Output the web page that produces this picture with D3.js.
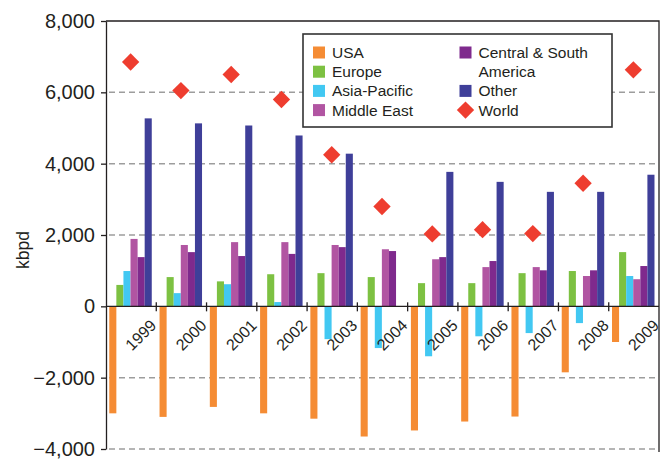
<!DOCTYPE html>
<html>
<head>
<meta charset="utf-8">
<script src="https://cdn.jsdelivr.net/npm/d3@7"></script>
<style>
  body { margin: 0; background: #fff; }
  svg { display: block; font-family: "Liberation Sans", Arial, Helvetica, sans-serif; }
</style>
</head>
<body>
<svg id="chart" width="663" height="459"></svg>
<script>
// Net change in oil flows by region, kbpd
const years = ["1999", "2000", "2001", "2002", "2003", "2004", "2005", "2006", "2007", "2008", "2009"];
const seriesNames = ["USA", "Europe", "Asia-Pacific", "Middle East", "Central & South America", "Other"];
const usa = [-3000, -3100, -2820, -3000, -3150, -3650, -3480, -3230, -3090, -1850, -1000];
const europe = [600, 820, 700, 900, 930, 820, 650, 650, 930, 990, 1520];
const asiaPacific = [990, 370, 620, 120, -920, -1170, -1400, -840, -750, -470, 850];
const middleEast = [1890, 1720, 1800, 1800, 1720, 1600, 1320, 1100, 1100, 850, 760];
const centralSouthAmerica = [1380, 1520, 1410, 1470, 1660, 1550, 1380, 1270, 1010, 1010, 1130];
const other = [5270, 5130, 5070, 4790, 4280, 0, 3770, 3490, 3210, 3210, 3690];
const world = [6850, 6050, 6500, 5800, 4250, 2800, 2030, 2150, 2040, 3450, 6630];
const yTicks = [-4000, -2000, 0, 2000, 4000, 6000, 8000];

const seriesValues = [usa, europe, asiaPacific, middleEast, centralSouthAmerica, other];
const seriesColors = ["#F58C34", "#7DC142", "#42C8F2", "#B155A2", "#7F2A8D", "#3F3F99"];
const worldColor = "#EE3D2F";
const ink = "#231F20";

const svg = d3.select("#chart");
const plotLeft = 106, plotRight = 659, plotTop = 21, plotBottom = 449;

const x = d3.scaleBand().domain(years).range([plotLeft, plotRight]).paddingInner(0).paddingOuter(0);
const inner = d3.scaleBand().domain(seriesNames).range([0, x.bandwidth()])
  .paddingInner(0).paddingOuter(0.55).align(0.42);
const y = d3.scaleLinear().domain([-4000, 8000]).range([plotBottom, plotTop]);

// dashed gridlines
svg.append("g").selectAll("line")
  .data(yTicks.filter(d => d !== 0 && d !== 8000))
  .join("line")
  .attr("x1", plotLeft + 3).attr("x2", plotRight)
  .attr("y1", d => y(d)).attr("y2", d => y(d))
  .attr("stroke", "#9d9d9d").attr("stroke-width", 1.5)
  .attr("stroke-dasharray", "6,4");

// bars
const rows = [];
years.forEach((yr, i) => {
  seriesNames.forEach((s, j) => {
    const v = seriesValues[j][i];
    if (v) rows.push({ yr, s, v, c: seriesColors[j] });
  });
});
svg.append("g").selectAll("rect")
  .data(rows)
  .join("rect")
  .attr("x", d => x(d.yr) + inner(d.s))
  .attr("width", inner.bandwidth())
  .attr("y", d => Math.min(y(d.v), y(0)))
  .attr("height", d => Math.abs(y(d.v) - y(0)))
  .attr("fill", d => d.c);

// frame: top and right edges
svg.append("path")
  .attr("d", `M${plotLeft},${plotTop}H${plotRight}V${plotBottom + 3}`)
  .attr("fill", "none").attr("stroke", ink).attr("stroke-width", 1.3);

// zero line with category ticks
svg.append("line")
  .attr("x1", plotLeft).attr("x2", plotRight)
  .attr("y1", y(0)).attr("y2", y(0))
  .attr("stroke", ink).attr("stroke-width", 1.3);
svg.append("g").selectAll("line")
  .data(years.slice(0, -1))
  .join("line")
  .attr("x1", d => x(d) + x.bandwidth()).attr("x2", d => x(d) + x.bandwidth())
  .attr("y1", y(0) - 4).attr("y2", y(0) + 5)
  .attr("stroke", ink).attr("stroke-width", 1.3);

// year labels
svg.append("g").selectAll("text")
  .data(years)
  .join("text")
  .attr("transform", d => `translate(${x(d) + x.bandwidth() + 1},${y(0) + 20}) rotate(-45)`)
  .attr("text-anchor", "end")
  .attr("font-size", 16)
  .attr("fill", ink)
  .text(d => d);

// y axis
const yAxis = svg.append("g")
  .attr("transform", `translate(${plotLeft},0)`)
  .call(d3.axisLeft(y).tickValues(yTicks).tickFormat(d3.format(",")).tickSize(5).tickSizeOuter(0).tickPadding(6));
yAxis.select(".domain").attr("stroke", ink).attr("stroke-width", 1.3);
yAxis.selectAll(".tick line").attr("stroke", ink).attr("stroke-width", 1.3);
yAxis.selectAll(".tick text").attr("font-size", 20).attr("fill", ink)
  .attr("font-family", "\"Liberation Sans\", Arial, sans-serif");

svg.append("text")
  .attr("transform", `translate(29,250) rotate(-90)`)
  .attr("text-anchor", "middle")
  .attr("font-size", 17.5)
  .attr("fill", ink)
  .text("kbpd");

// world markers
const diamond = d3.symbol().type(d3.symbolSquare).size(150);
svg.append("g").selectAll("path")
  .data(years.map((yr, i) => ({ yr, v: world[i] })))
  .join("path")
  .attr("d", diamond)
  .attr("transform", d => `translate(${x(d.yr) + x.bandwidth() / 2 - 0.5},${y(d.v)}) rotate(45)`)
  .attr("fill", worldColor);

// legend
const lg = svg.append("g");
lg.append("rect")
  .attr("x", 303).attr("y", 34).attr("width", 309).attr("height", 93)
  .attr("fill", "#fff").attr("stroke", "#333").attr("stroke-width", 1.6);
const legendItems = [
  { label: ["USA"], color: seriesColors[0], col: 0, row: 0 },
  { label: ["Europe"], color: seriesColors[1], col: 0, row: 1 },
  { label: ["Asia-Pacific"], color: seriesColors[2], col: 0, row: 2 },
  { label: ["Middle East"], color: seriesColors[3], col: 0, row: 3 },
  { label: ["Central & South", "America"], color: seriesColors[4], col: 1, row: 0 },
  { label: ["Other"], color: seriesColors[5], col: 1, row: 2 },
  { label: ["World"], color: worldColor, col: 1, row: 3, marker: true }
];
const colX = [313, 459.5];
const rowY = r => 52.5 + r * 19.2;
legendItems.forEach(it => {
  const gx = colX[it.col], gy = rowY(it.row);
  if (it.marker) {
    lg.append("path").attr("d", diamond)
      .attr("transform", `translate(${gx + 6},${gy}) rotate(45)`)
      .attr("fill", it.color);
  } else {
    lg.append("rect").attr("x", gx).attr("y", gy - 6).attr("width", 12).attr("height", 12)
      .attr("fill", it.color);
  }
  it.label.forEach((t, k) => {
    lg.append("text")
      .attr("x", gx + 19).attr("y", gy + k * 19.2 + 5.5)
      .attr("font-size", 15.5).attr("fill", ink)
      .text(t);
  });
});
</script>
</body>
</html>
